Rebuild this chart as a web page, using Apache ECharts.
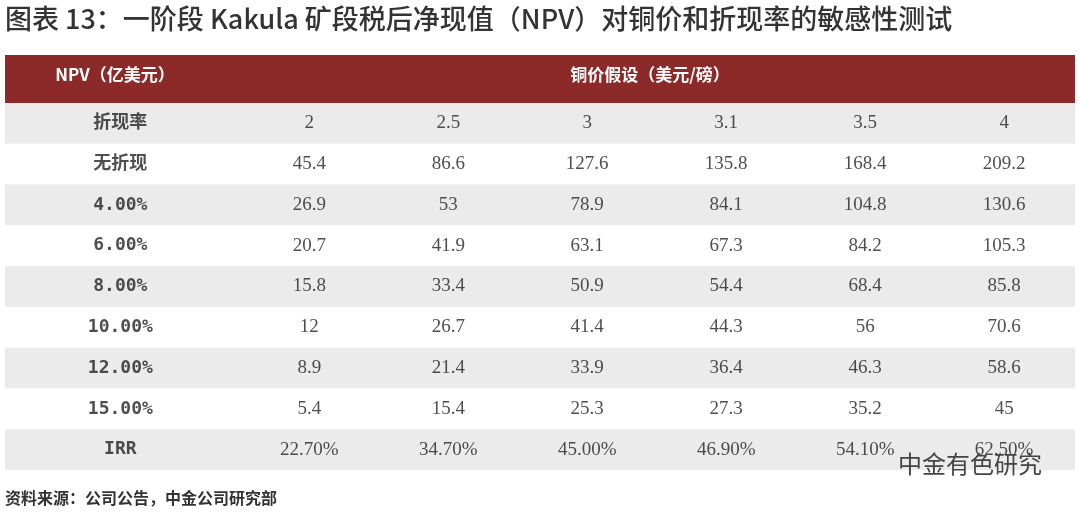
<!DOCTYPE html>
<html><head><meta charset="utf-8">
<script src="https://cdn.jsdelivr.net/npm/echarts@6/dist/echarts.min.js"></script>
<style>html,body{margin:0;padding:0;background:#fff}#c{width:1080px;height:518px}</style>
</head><body><div id="c"></div>
<script>
const prices = ['2','2.5','3','3.1','3.5','4'];
const rowLabels = ['无折现','4.00%','6.00%','8.00%','10.00%','12.00%','15.00%'];
const npvNoDisc = [45.4,86.6,127.6,135.8,168.4,209.2];
const npv4 = [26.9,53,78.9,84.1,104.8,130.6];
const npv6 = [20.7,41.9,63.1,67.3,84.2,105.3];
const npv8 = [15.8,33.4,50.9,54.4,68.4,85.8];
const npv10 = [12,26.7,41.4,44.3,56,70.6];
const npv12 = [8.9,21.4,33.9,36.4,46.3,58.6];
const npv15 = [5.4,15.4,25.3,27.3,35.2,45];
const irr = ['22.70%','34.70%','45.00%','46.90%','54.10%','62.50%'];

const table = [['折现率'].concat(prices)];
[npvNoDisc,npv4,npv6,npv8,npv10,npv12,npv15].forEach((r,i)=>table.push([rowLabels[i]].concat(r.map(String))));
table.push(['IRR'].concat(irr));

const labelPts=[], valuePts=[];
table.forEach((row,ri)=>{
  labelPts.push([0.83, ri, row[0]]);
  for(let j=1;j<row.length;j++) valuePts.push([j+1.19, ri, row[j]]);
});
const rows = table.map((_,i)=>[0,i]);

const chart = echarts.init(document.getElementById('c'));
chart.setOption({
  animation:false,
  grid:{left:5,right:5,top:103,bottom:48},
  xAxis:{type:'value',min:0,max:7.7,show:false},
  yAxis:{type:'category',data:table.map((r,i)=>i),inverse:true,show:false},
  graphic:[
    {type:'text',left:5,top:5,style:{text:'图表 13：一阶段 Kakula 矿段税后净现值（NPV）对铜价和折现率的敏感性测试',font:'500 27px "Noto Sans CJK SC", sans-serif',fill:'#333'}},
    {type:'rect',shape:{x:5,y:55,width:1070,height:48},style:{fill:'#8c2a2a'}},
    {type:'text',x:115,y:75,style:{text:'NPV（亿美元）',font:'bold 17px "Noto Sans CJK SC", sans-serif',fill:'#fff',align:'center',verticalAlign:'middle'}},
    {type:'text',x:650,y:75,style:{text:'铜价假设（美元/磅）',font:'bold 17px "Noto Sans CJK SC", sans-serif',fill:'#fff',align:'center',verticalAlign:'middle'}},
    {type:'text',left:5,top:490,style:{text:'资料来源：公司公告，中金公司研究部',font:'bold 16px "Noto Sans CJK SC", sans-serif',fill:'#333'}},
    {type:'text',right:38,top:452,z:100,style:{text:'中金有色研究',font:'24px "Noto Sans CJK SC", sans-serif',fill:'#444'}}
  ],
  series:[
    {type:'custom',data:rows,silent:true,z:0,renderItem:(params,api)=>{
      const r=api.value(1); const y=api.coord([0,r])[1]; const h=api.size([0,1])[1];
      const cs=params.coordSys;
      return {type:'rect',shape:{x:cs.x,y:y-h/2,width:cs.width,height:h},style:{fill:r%2===0?'#ebebeb':'#ffffff'}};
    }},
    {type:'scatter',data:labelPts,symbolSize:0,label:{show:true,position:'inside',formatter:p=>p.data[2],color:'#222',fontSize:18,fontWeight:'bold',fontFamily:'"DejaVu Sans Mono","Noto Sans CJK SC",monospace'}},
    {type:'scatter',data:valuePts,symbolSize:0,label:{show:true,position:'inside',formatter:p=>p.data[2],color:'#222',fontSize:19,fontFamily:'"Liberation Serif",serif'}}
  ]
});
</script></body></html>
